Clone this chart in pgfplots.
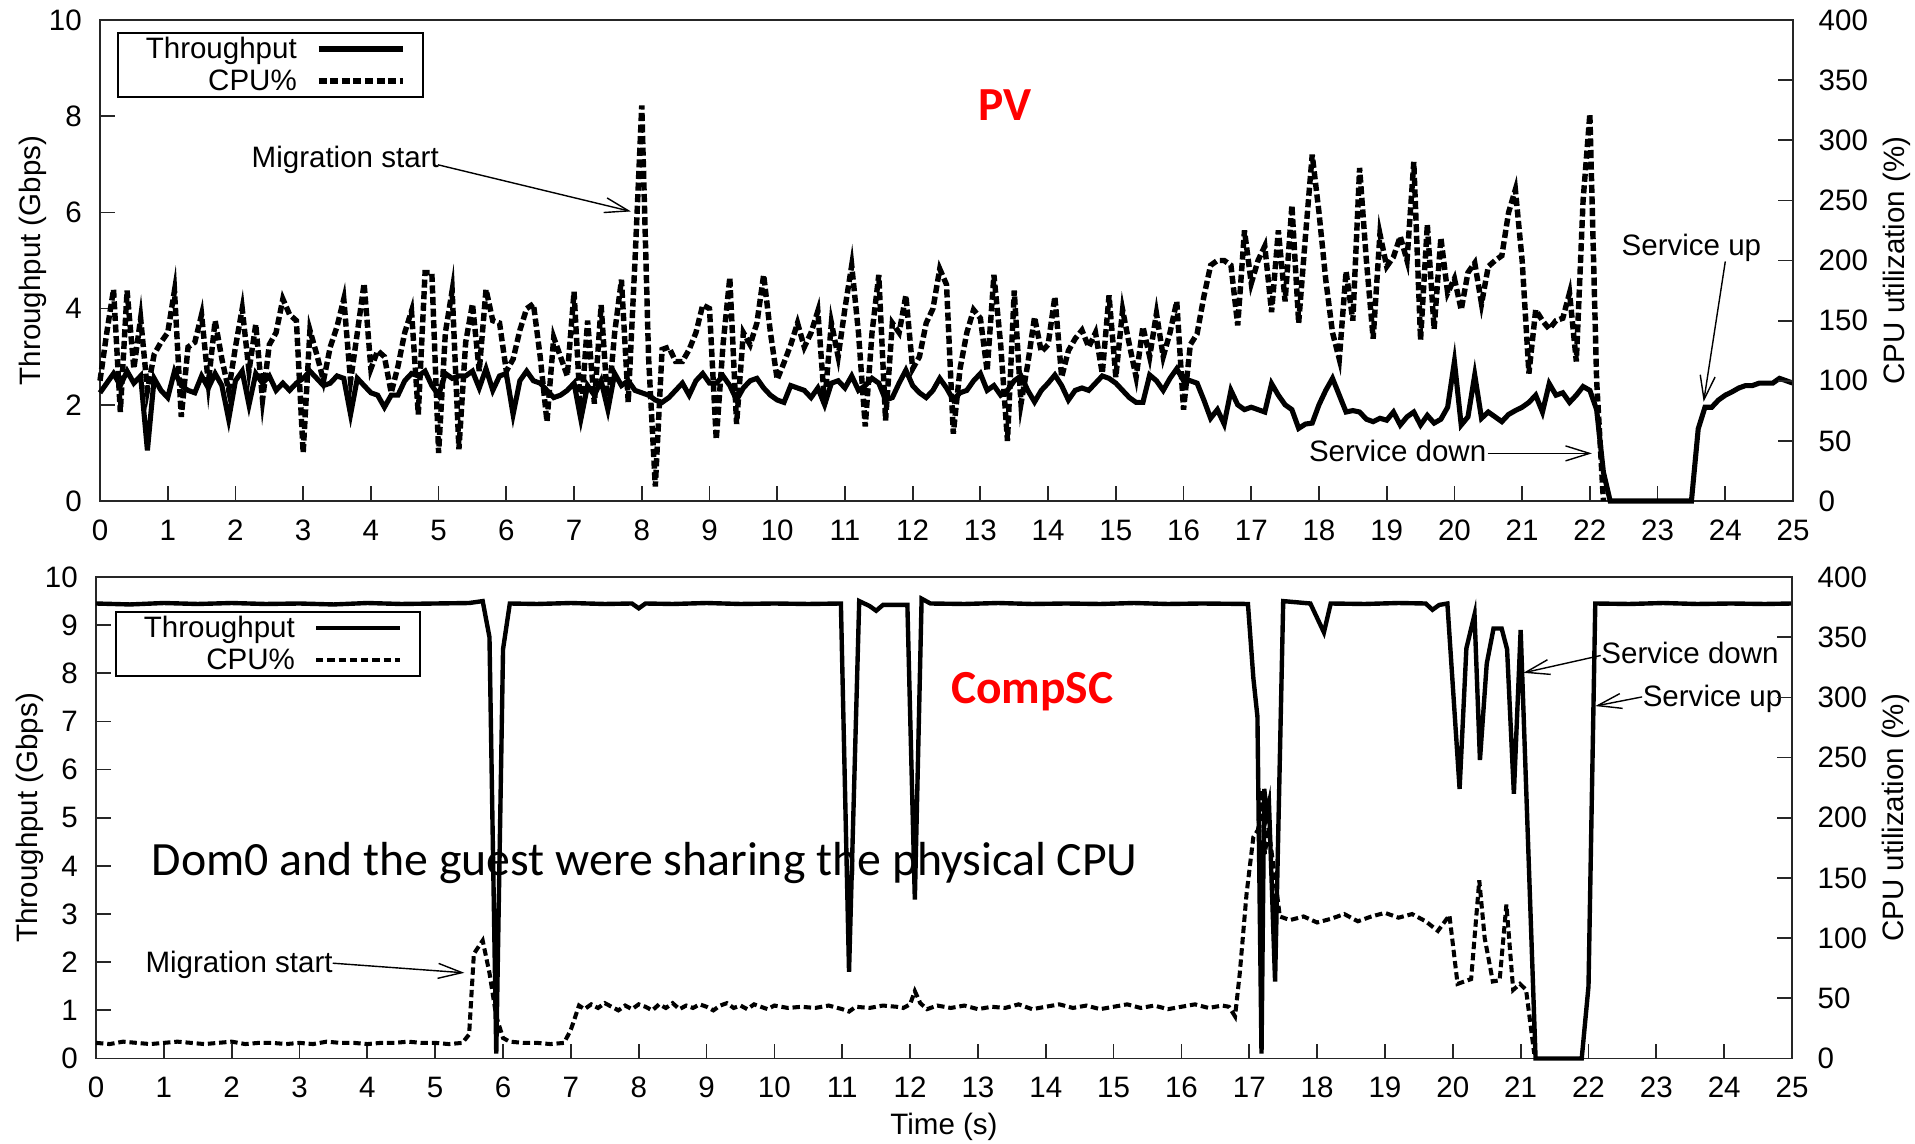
\documentclass[border=0pt]{standalone}
\usepackage{fontspec}
\setmainfont{Liberation Sans}
\newfontfamily\calibri{Carlito}
\usepackage{pgfplots}
\pgfplotsset{compat=1.18}
\usetikzlibrary{arrows.meta}
\newcommand{\lab}{\fontsize{8.4}{10}\selectfont}
\newcommand{\lt}[1]{\makebox[1.61cm][r]{\rule[-0.04cm]{0pt}{0.28cm}#1}}
\pgfplotsset{
  gp/.style={
    scale only axis, clip=false,
    xmin=0, xmax=25, xtick={0,1,...,25},
    tick align=inside, major tick length=0.15cm,
    axis line style={line width=0.5pt, black!85},
    every tick/.append style={black!85, line width=0.5pt},
    /pgf/number format/assume math mode=true,
    tick label style={font=\lab, inner sep=0pt},
    label style={font=\lab},
  },
  gpleft/.style={gp, xtick pos=left, ytick pos=left,
    xticklabel style={anchor=center, yshift=-0.29cm},
    yticklabel style={anchor=east, xshift=-0.175cm},
    ylabel={Throughput (Gbps)},
    legend plot pos=right,
    legend image code/.code={\draw[##1] (0cm,0cm) -- (0.84cm,0cm);},
    legend style={draw=black, line width=0.5pt, fill=white, font=\lab,
      inner xsep=0.18cm, inner ysep=0.015cm, row sep=0.025cm,
      nodes={inner sep=0pt},
      /tikz/every odd column/.append style={column sep=0.19cm}},
  },
  gpright/.style={gp, axis y line*=right, axis x line=none,
    ymin=0, ymax=400, ytick={0,50,...,400},
    yticklabel style={anchor=west, xshift=0.25cm},
    ylabel={CPU utilization (\%)},
  },
  thr/.style={black, line width=1.45pt, mark=none},
  cpu/.style={black, line width=1.55pt, dash pattern=on 2.3pt off 1pt, mark=none},
  thrb/.style={black, line width=1.25pt, mark=none},
  cpub/.style={black, line width=1.15pt, dash pattern=on 2.1pt off 1.1pt, mark=none},
}
\tikzset{ann/.style={-{Straight Barb[length=0.24cm,width=0.15cm]}, line width=0.4pt, black}}

\pgfplotstableread[row sep=\\]{
x y\\
0.0 2.25\\ 0.1 2.45\\ 0.2 2.65\\ 0.3 2.4\\ 0.4 2.7\\ 0.5 2.45\\ 0.6 2.6\\ 0.7 1.05\\ 0.8 2.55\\ 0.9 2.3\\
1.0 2.15\\ 1.1 2.7\\ 1.2 2.4\\ 1.3 2.3\\ 1.4 2.25\\ 1.5 2.6\\ 1.6 2.35\\ 1.7 2.65\\ 1.8 2.4\\ 1.9 1.7\\
2.0 2.5\\ 2.1 2.7\\ 2.2 2.0\\ 2.3 2.65\\ 2.4 2.45\\ 2.5 2.6\\ 2.6 2.3\\ 2.7 2.45\\ 2.8 2.3\\ 2.9 2.45\\
3.0 2.55\\ 3.1 2.7\\ 3.2 2.55\\ 3.3 2.4\\ 3.4 2.45\\ 3.5 2.6\\ 3.6 2.55\\ 3.7 1.8\\ 3.8 2.55\\ 3.9 2.4\\
4.0 2.25\\ 4.1 2.2\\ 4.2 1.95\\ 4.3 2.2\\ 4.4 2.2\\ 4.5 2.5\\ 4.6 2.65\\ 4.7 2.6\\ 4.8 2.7\\ 4.9 2.4\\
5.0 2.2\\ 5.1 2.65\\ 5.2 2.55\\ 5.3 2.6\\ 5.4 2.6\\ 5.5 2.7\\ 5.6 2.35\\ 5.7 2.75\\ 5.8 2.3\\ 5.9 2.6\\
6.0 2.65\\ 6.1 1.8\\ 6.2 2.5\\ 6.3 2.7\\ 6.4 2.5\\ 6.5 2.45\\ 6.6 2.3\\ 6.7 2.15\\ 6.8 2.2\\ 6.9 2.3\\
7.0 2.45\\ 7.1 1.7\\ 7.2 2.4\\ 7.3 2.2\\ 7.4 2.5\\ 7.5 1.9\\ 7.6 2.65\\ 7.7 2.4\\ 7.8 2.5\\ 7.9 2.3\\
8.0 2.25\\ 8.1 2.2\\ 8.2 2.1\\ 8.3 2.05\\ 8.4 2.15\\ 8.5 2.3\\ 8.6 2.45\\ 8.7 2.2\\ 8.8 2.5\\ 8.9 2.65\\
9.0 2.45\\ 9.1 2.45\\ 9.2 2.6\\ 9.3 2.4\\ 9.4 2.1\\ 9.5 2.35\\ 9.6 2.5\\ 9.7 2.55\\ 9.8 2.35\\ 9.9 2.2\\
10.0 2.1\\ 10.1 2.05\\ 10.2 2.4\\ 10.3 2.35\\ 10.4 2.3\\ 10.5 2.15\\ 10.6 2.35\\ 10.7 2.0\\ 10.8 2.45\\ 10.9 2.5\\
11.0 2.35\\ 11.1 2.6\\ 11.2 2.3\\ 11.3 2.4\\ 11.4 2.55\\ 11.5 2.45\\ 11.6 2.1\\ 11.7 2.15\\ 11.8 2.45\\ 11.9 2.72\\
12.0 2.4\\ 12.1 2.25\\ 12.2 2.15\\ 12.3 2.3\\ 12.4 2.55\\ 12.5 2.35\\ 12.6 2.1\\ 12.7 2.25\\ 12.8 2.3\\ 12.9 2.5\\
13.0 2.65\\ 13.1 2.3\\ 13.2 2.4\\ 13.3 2.2\\ 13.4 2.3\\ 13.5 2.5\\ 13.6 2.6\\ 13.7 2.3\\ 13.8 2.06\\ 13.9 2.3\\
14.0 2.45\\ 14.1 2.62\\ 14.2 2.4\\ 14.3 2.1\\ 14.4 2.3\\ 14.5 2.35\\ 14.6 2.3\\ 14.7 2.45\\ 14.8 2.6\\ 14.9 2.55\\
15.0 2.45\\ 15.1 2.3\\ 15.2 2.15\\ 15.3 2.05\\ 15.4 2.05\\ 15.5 2.62\\ 15.6 2.5\\ 15.7 2.3\\ 15.8 2.55\\ 15.9 2.75\\
16.0 2.5\\ 16.1 2.5\\ 16.2 2.45\\ 16.3 2.1\\ 16.4 1.72\\ 16.5 1.9\\ 16.6 1.6\\ 16.7 2.3\\ 16.8 2.0\\ 16.9 1.9\\
17.0 1.95\\ 17.1 1.9\\ 17.2 1.85\\ 17.3 2.44\\ 17.4 2.2\\ 17.5 2.0\\ 17.6 1.9\\ 17.7 1.51\\ 17.8 1.6\\ 17.9 1.62\\
18.0 2.0\\ 18.1 2.3\\ 18.2 2.55\\ 18.3 2.2\\ 18.4 1.85\\ 18.5 1.88\\ 18.6 1.85\\ 18.7 1.7\\ 18.8 1.65\\ 18.9 1.72\\
19.0 1.68\\ 19.1 1.85\\ 19.2 1.58\\ 19.3 1.75\\ 19.4 1.85\\ 19.5 1.58\\ 19.6 1.78\\ 19.7 1.62\\ 19.8 1.7\\ 19.9 1.95\\
20.0 2.9\\ 20.1 1.58\\ 20.2 1.75\\ 20.3 2.62\\ 20.4 1.72\\ 20.5 1.85\\ 20.6 1.75\\ 20.7 1.65\\ 20.8 1.8\\ 20.9 1.88\\
21.0 1.95\\ 21.1 2.05\\ 21.2 2.2\\ 21.3 1.85\\ 21.4 2.44\\ 21.5 2.2\\ 21.6 2.25\\ 21.7 2.05\\ 21.8 2.2\\ 21.9 2.38\\
22.0 2.3\\ 22.1 1.9\\ 22.2 0.6\\ 22.3 0.0\\ 23.5 0.0\\ 23.6 1.5\\ 23.7 1.95\\ 23.8 1.95\\ 23.9 2.1\\
24.0 2.2\\ 24.1 2.27\\ 24.2 2.35\\ 24.3 2.4\\ 24.4 2.4\\ 24.5 2.45\\ 24.6 2.45\\ 24.7 2.45\\ 24.8 2.55\\ 24.9 2.5\\ 25.0 2.45\\
}\pvthr

\pgfplotstableread[row sep=\\]{
x y\\
0.0 100\\ 0.1 140\\ 0.2 176\\ 0.3 74\\ 0.4 175\\ 0.5 110\\ 0.6 152\\ 0.7 92\\ 0.8 122\\ 0.9 132\\
1.0 140\\ 1.1 175\\ 1.2 70\\ 1.3 128\\ 1.4 132\\ 1.5 155\\ 1.6 98\\ 1.7 150\\ 1.8 118\\ 1.9 92\\
2.0 128\\ 2.1 160\\ 2.2 108\\ 2.3 147\\ 2.4 84\\ 2.5 130\\ 2.6 140\\ 2.7 168\\ 2.8 155\\ 2.9 150\\
3.0 40\\ 3.1 142\\ 3.2 122\\ 3.3 100\\ 3.4 128\\ 3.5 145\\ 3.6 168\\ 3.7 100\\ 3.8 140\\ 3.9 181\\
4.0 110\\ 4.1 125\\ 4.2 120\\ 4.3 90\\ 4.4 112\\ 4.5 140\\ 4.6 158\\ 4.7 72\\ 4.8 190\\ 4.9 190\\
5.0 40\\ 5.1 140\\ 5.2 175\\ 5.3 43\\ 5.4 132\\ 5.5 164\\ 5.6 108\\ 5.7 176\\ 5.8 150\\ 5.9 148\\
6.0 108\\ 6.1 118\\ 6.2 142\\ 6.3 160\\ 6.4 164\\ 6.5 120\\ 6.6 66\\ 6.7 136\\ 6.8 120\\ 6.9 104\\
7.0 174\\ 7.1 69\\ 7.2 150\\ 7.3 81\\ 7.4 163\\ 7.5 77\\ 7.6 140\\ 7.7 184\\ 7.8 82\\ 7.9 200\\
8.0 329\\ 8.1 120\\ 8.2 12\\ 8.3 126\\ 8.4 128\\ 8.5 116\\ 8.6 116\\ 8.7 126\\ 8.8 140\\ 8.9 163\\
9.0 160\\ 9.1 51\\ 9.2 130\\ 9.3 186\\ 9.4 64\\ 9.5 140\\ 9.6 130\\ 9.7 148\\ 9.8 188\\ 9.9 140\\
10.0 101\\ 10.1 115\\ 10.2 130\\ 10.3 148\\ 10.4 128\\ 10.5 140\\ 10.6 158\\ 10.7 81\\ 10.8 148\\ 10.9 120\\
11.0 160\\ 11.1 196\\ 11.2 140\\ 11.3 62\\ 11.4 140\\ 11.5 188\\ 11.6 67\\ 11.7 148\\ 11.8 140\\ 11.9 171\\
12.0 110\\ 12.1 120\\ 12.2 148\\ 12.3 160\\ 12.4 193\\ 12.5 180\\ 12.6 56\\ 12.7 110\\ 12.8 140\\ 12.9 159\\
13.0 152\\ 13.1 108\\ 13.2 188\\ 13.3 130\\ 13.4 50\\ 13.5 175\\ 13.6 81\\ 13.7 114\\ 13.8 153\\ 13.9 124\\
14.0 130\\ 14.1 170\\ 14.2 103\\ 14.3 125\\ 14.4 135\\ 14.5 142\\ 14.6 128\\ 14.7 140\\ 14.8 106\\ 14.9 171\\
15.0 103\\ 15.1 159\\ 15.2 130\\ 15.3 103\\ 15.4 145\\ 15.5 120\\ 15.6 156\\ 15.7 120\\ 15.8 140\\ 15.9 166\\
16.0 76\\ 16.1 130\\ 16.2 139\\ 16.3 170\\ 16.4 196\\ 16.5 200\\ 16.6 200\\ 16.7 196\\ 16.8 146\\ 16.9 225\\
17.0 181\\ 17.1 200\\ 17.2 212\\ 17.3 157\\ 17.4 225\\ 17.5 166\\ 17.6 246\\ 17.7 148\\ 17.8 220\\ 17.9 288\\
18.0 240\\ 18.1 184\\ 18.2 140\\ 18.3 118\\ 18.4 191\\ 18.5 150\\ 18.6 277\\ 18.7 200\\ 18.8 135\\ 18.9 222\\
19.0 195\\ 19.1 203\\ 19.2 220\\ 19.3 200\\ 19.4 282\\ 19.5 134\\ 19.6 230\\ 19.7 143\\ 19.8 219\\ 19.9 173\\
20.0 185\\ 20.1 159\\ 20.2 190\\ 20.3 198\\ 20.4 164\\ 20.5 195\\ 20.6 200\\ 20.7 204\\ 20.8 240\\ 20.9 259\\
21.0 200\\ 21.1 106\\ 21.2 159\\ 21.3 150\\ 21.4 143\\ 21.5 150\\ 21.6 152\\ 21.7 173\\ 21.8 116\\ 21.9 250\\
22.0 322\\ 22.1 100\\ 22.2 0\\
}\pvcpu

\pgfplotstableread[row sep=\\]{
x y\\
0 9.45\\ 0.5 9.43\\ 1 9.46\\ 1.5 9.44\\ 2 9.46\\ 2.5 9.44\\ 3 9.45\\ 3.5 9.43\\ 4 9.46\\ 4.5 9.44\\
5 9.45\\ 5.5 9.46\\ 5.7 9.5\\ 5.8 8.75\\ 5.9 0.1\\ 6.0 8.5\\ 6.1 9.45\\ 6.5 9.44\\ 7 9.46\\ 7.5 9.44\\
7.9 9.45\\ 8.0 9.35\\ 8.1 9.45\\ 8.5 9.44\\ 9 9.46\\ 9.5 9.44\\ 10 9.45\\ 10.5 9.44\\ 10.98 9.45\\
11.1 1.8\\ 11.25 9.5\\ 11.4 9.4\\ 11.5 9.3\\ 11.6 9.42\\ 11.96 9.42\\ 12.07 3.3\\ 12.17 9.55\\ 12.3 9.45\\
12.8 9.44\\ 13.3 9.46\\ 13.8 9.44\\ 14.3 9.45\\ 14.8 9.44\\ 15.3 9.46\\ 15.8 9.44\\ 16.3 9.45\\ 16.98 9.44\\
17.06 7.9\\ 17.12 7.1\\ 17.18 0.1\\ 17.22 5.6\\ 17.26 5.1\\ 17.29 5.3\\ 17.38 1.6\\ 17.5 9.5\\ 17.9 9.45\\
18.1 8.85\\ 18.2 9.45\\ 18.7 9.44\\ 19.2 9.46\\ 19.6 9.45\\ 19.7 9.32\\ 19.8 9.42\\ 19.92 9.45\\
20.1 5.6\\ 20.2 8.52\\ 20.32 9.22\\ 20.4 6.2\\ 20.5 8.2\\ 20.6 8.93\\ 20.72 8.93\\ 20.8 8.5\\ 20.9 5.5\\
21.0 8.9\\ 21.22 0\\ 21.9 0\\ 22.0 1.5\\ 22.1 9.45\\ 22.6 9.44\\ 23.1 9.46\\ 23.6 9.44\\ 24.1 9.45\\ 24.6 9.44\\ 25 9.45\\
}\csthr

\pgfplotstableread[row sep=\\]{
x y\\
0 13\\ 0.2 12\\ 0.4 14\\ 0.6 13\\ 0.8 12\\ 1.0 13\\ 1.2 14\\ 1.4 13\\ 1.6 12\\ 1.8 13\\
2.0 14\\ 2.2 12\\ 2.4 13\\ 2.6 13\\ 2.8 12\\ 3.0 13\\ 3.2 12\\ 3.4 14\\ 3.6 13\\ 3.8 13\\
4.0 12\\ 4.2 13\\ 4.4 13\\ 4.6 14\\ 4.8 13\\ 5.0 13\\ 5.2 12\\ 5.4 13\\ 5.5 20\\ 5.57 87\\
5.7 98\\ 5.8 71\\ 5.9 35\\ 6.0 17\\ 6.1 14\\ 6.3 13\\ 6.5 13\\ 6.7 12\\ 6.9 13\\ 7.0 24\\
7.12 44\\ 7.2 41\\ 7.3 45\\ 7.4 42\\ 7.5 46\\ 7.6 43\\ 7.7 40\\ 7.8 44\\ 7.9 41\\ 8.0 45\\
8.1 43\\ 8.2 40\\ 8.3 45\\ 8.4 42\\ 8.5 46\\ 8.6 41\\ 8.7 44\\ 8.8 42\\ 8.9 45\\ 9.0 43\\
9.1 40\\ 9.2 44\\ 9.3 46\\ 9.4 42\\ 9.5 44\\ 9.6 41\\ 9.7 45\\ 9.8 43\\ 9.9 41\\ 10.0 44\\
10.2 42\\ 10.4 43\\ 10.6 42\\ 10.8 44\\ 11.0 41\\ 11.1 39\\ 11.2 43\\ 11.4 42\\ 11.6 44\\ 11.8 43\\
11.9 42\\ 12.0 45\\ 12.07 56\\ 12.15 46\\ 12.25 41\\ 12.4 44\\ 12.6 42\\ 12.8 44\\ 13.0 41\\ 13.2 43\\
13.4 42\\ 13.6 45\\ 13.8 41\\ 14.0 43\\ 14.2 45\\ 14.4 42\\ 14.6 44\\ 14.8 41\\ 15.0 43\\ 15.2 45\\
15.4 42\\ 15.6 44\\ 15.8 41\\ 16.0 43\\ 16.2 45\\ 16.4 42\\ 16.6 44\\ 16.7 43\\ 16.79 35\\ 16.86 71\\
16.96 137\\ 17.06 184\\ 17.13 190\\ 17.18 223\\ 17.23 170\\ 17.28 192\\ 17.38 150\\ 17.45 118\\ 17.6 115\\ 17.8 118\\
18.0 113\\ 18.2 116\\ 18.4 120\\ 18.6 114\\ 18.8 118\\ 19.0 121\\ 19.2 117\\ 19.4 120\\ 19.6 114\\ 19.78 106\\
19.95 119\\ 20.07 62\\ 20.27 66\\ 20.39 148\\ 20.47 100\\ 20.59 64\\ 20.69 65\\ 20.79 128\\ 20.89 57\\ 20.99 62\\
21.08 57\\ 21.2 4\\
}\cscpu

\begin{document}
\begin{tikzpicture}
\useasboundingbox (0,0) rectangle (19.15cm,-11.43cm);

% ---------------- top: PV ----------------
\begin{axis}[gpleft, at={(1.00cm,-5.01cm)}, anchor=south west,
  width=16.93cm, height=4.81cm,
  ymin=0, ymax=10, ytick={0,2,...,10},
  ylabel style={at={(axis description cs:-0.0396,0.5)}, anchor=center},
  legend style={at={(0.010,0.975)}, anchor=north west}]
\addplot[thr] table[x=x,y=y] {\pvthr};
\addlegendentry{\lt{Throughput}}
\addlegendimage{cpu}
\addlegendentry{\lt{CPU\%}}
\node[anchor=base, inner sep=0pt, text=red, font=\calibri\bfseries\fontsize{13.5}{16}\selectfont] at (axis cs:13.36,7.92) {PV};
\node[anchor=base west, inner sep=0pt, font=\lab] at (axis cs:2.23,6.94) {Migration start};
\draw[ann] (axis cs:4.99,6.99) -- (axis cs:7.84,6.02);
\node[anchor=base east, inner sep=0pt, font=\lab] at (axis cs:20.48,0.82) {Service down};
\draw[ann] (axis cs:20.49,0.99) -- (axis cs:22.03,0.99);
\node[anchor=base west, inner sep=0pt, font=\lab] at (axis cs:22.46,5.11) {Service up};
\draw[ann] (axis cs:24.0,4.98) -- (axis cs:23.68,2.06);
\end{axis}
\begin{axis}[gpright, at={(1.00cm,-5.01cm)}, anchor=south west,
  width=16.93cm, height=4.81cm,
  ylabel style={at={(axis description cs:1.0614,0.5)}, anchor=center, rotate=0}]
\addplot[cpu] table[x=x,y=y] {\pvcpu};
\end{axis}

% ---------------- bottom: CompSC ----------------
\begin{axis}[gpleft, at={(0.96cm,-10.585cm)}, anchor=south west,
  width=16.96cm, height=4.815cm,
  ymin=0, ymax=10, ytick={0,1,...,10},
  ylabel style={at={(axis description cs:-0.0389,0.5)}, anchor=center},
  xlabel={Time (s)},
  xlabel style={at={(axis description cs:0.5,-0.112)}, anchor=north, inner sep=0pt},
  legend style={at={(0.0112,0.929)}, anchor=north west}]
\addplot[thrb] table[x=x,y=y] {\csthr};
\addlegendentry{\lt{Throughput}}
\addlegendimage{cpub}
\addlegendentry{\lt{CPU\%}}
\node[anchor=base, inner sep=0pt, text=red, font=\calibri\bfseries\fontsize{13.5}{16}\selectfont] at (axis cs:13.80,7.38) {CompSC};
\node[anchor=base west, inner sep=0pt, font=\calibri\fontsize{13.6}{16}\selectfont] at (axis cs:0.81,3.81) {Dom0 and the guest were sharing the physical CPU};
\node[anchor=base west, inner sep=0pt, font=\lab] at (axis cs:0.72,1.78) {Migration start};
\draw[ann] (axis cs:3.49,1.98) -- (axis cs:5.43,1.78);
\node[anchor=base west, inner sep=0pt, font=\lab] at (axis cs:22.18,8.20) {Service down};
\draw[ann] (axis cs:22.18,8.37) -- (axis cs:21.04,8.01);
\node[anchor=base west, inner sep=0pt, font=\lab] at (axis cs:22.79,7.32) {Service up};
\draw[ann] (axis cs:22.79,7.51) -- (axis cs:22.10,7.32);
\end{axis}
\begin{axis}[gpright, at={(0.96cm,-10.585cm)}, anchor=south west,
  width=16.96cm, height=4.815cm,
  ylabel style={at={(axis description cs:1.0610,0.5)}, anchor=center, rotate=0}]
\addplot[cpub] table[x=x,y=y] {\cscpu};
\end{axis}
\end{tikzpicture}
\end{document}
